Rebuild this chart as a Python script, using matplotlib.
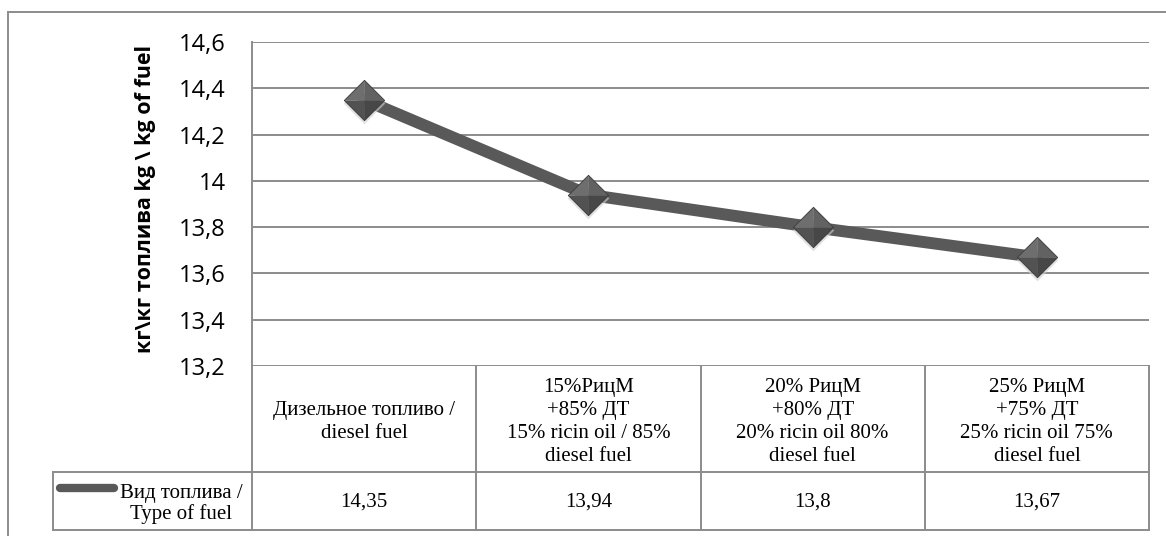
import matplotlib
matplotlib.use("Agg")
import matplotlib.pyplot as plt
from matplotlib.lines import Line2D
from matplotlib.patches import Rectangle
from matplotlib.ticker import FixedLocator, FuncFormatter
from matplotlib.transforms import blended_transform_factory

# data
categories = [
    "Дизельное топливо /\ndiesel fuel",
    "15%РицМ\n+85% ДТ\n15% ricin oil / 85%\ndiesel fuel",
    "20% РицМ\n+80% ДТ\n20% ricin oil 80%\ndiesel fuel",
    "25% РицМ\n+75% ДТ\n25% ricin oil 75%\ndiesel fuel",
]
values = [14.35, 13.94, 13.8, 13.67]
series_name = "Вид топлива /\nType of fuel"
y_label = "кг\\кг топлива kg \\ kg of fuel"
y_ticks = [13.2, 13.4, 13.6, 13.8, 14.0, 14.2, 14.4, 14.6]

W, H = 1166, 536
GRID = "#8c8c8c"
LINE = "#595959"


def fy(py):
    return 1 - py / H


def comma(v):
    return f"{v:g}".replace(".", ",")


fig = plt.figure(figsize=(W / 100, H / 100), dpi=100)
fig.patch.set_facecolor("white")

# outer chart frame (right / bottom edges fall outside the image)
fig.add_artist(Rectangle((8 / W, -0.2), 1.5, fy(12) + 0.2, transform=fig.transFigure,
                         fill=False, edgecolor=GRID, linewidth=1.4))

ax = fig.add_axes([252 / W, fy(366), 897 / W, 324 / H])
ax.set_xlim(-0.5, len(values) - 0.5)
ax.set_ylim(y_ticks[0], y_ticks[-1])
ax.yaxis.set_major_locator(FixedLocator(y_ticks))
ax.yaxis.set_major_formatter(FuncFormatter(lambda v, p: comma(round(v, 1))))
ax.set_xticks([])
ax.tick_params(axis="y", length=0, pad=19, labelsize=17)
for lab in ax.get_yticklabels():
    lab.set_fontfamily("Open Sans")
ax.grid(axis="y", color=GRID, linewidth=1.4)
for s in ["top", "right", "bottom"]:
    ax.spines[s].set_visible(False)
ax.spines["left"].set_color(GRID)
ax.spines["left"].set_linewidth(1.4)

x = list(range(len(values)))
ax.plot(x, values, color=LINE, linewidth=8.6, solid_joinstyle="round",
        solid_capstyle="round", zorder=3)

# pyramid-style diamond markers built from four shaded facets
facets = [
    ([(-1, 0), (0, 1), (0, 0)], "#6e6e6e"),
    ([(0, 1), (1, 0), (0, 0)], "#626262"),
    ([(-1, 0), (0, -1), (0, 0)], "#525252"),
    ([(1, 0), (0, -1), (0, 0)], "#474747"),
]
ax.plot(x, [v - 0.012 for v in values], linestyle="none", marker=[(-1, 0), (0, 1), (1, 0), (0, -1)],
        markersize=30, color="#cfcfcf", markeredgewidth=0, alpha=0.6, zorder=4)
for verts, col in facets:
    ax.plot(x, values, linestyle="none", marker=verts, markersize=29,
            markerfacecolor=col, markeredgecolor=col, markeredgewidth=0.3, zorder=5)
ax.plot(x, values, linestyle="none", marker=[(-1, 0), (0, 1), (1, 0), (0, -1), (-1, 0)],
        markersize=29, markerfacecolor="none", markeredgecolor="#3c3c3c",
        markeredgewidth=0.6, zorder=6)

fig.text(146 / W, fy(199), y_label, rotation=90, ha="center", va="center",
         fontsize=15.5, fontweight="bold", fontfamily="Open Sans", color="black")

# data table under the plot
tr = blended_transform_factory(ax.transData, fig.transFigure)
serif = "Liberation Serif"
row_top, row_mid, row_bot = 366, 472, 530
lw = 1.4

def hline(x0, x1, py, transform):
    fig.add_artist(Line2D([x0, x1], [fy(py), fy(py)], transform=transform,
                          color=GRID, linewidth=lw))

def vline(xv, py0, py1, transform):
    fig.add_artist(Line2D([xv, xv], [fy(py0), fy(py1)], transform=transform,
                          color=GRID, linewidth=lw))

n = len(values)
hline(-0.5, n - 0.5, row_mid, tr)
hline(-0.5, n - 0.5, row_bot, tr)
hline(53 / W, 252 / W, row_mid, fig.transFigure)
hline(53 / W, 252 / W, row_bot, fig.transFigure)
vline(53 / W, row_mid, row_bot, fig.transFigure)
for i in range(n + 1):
    vline(i - 0.5, row_top, row_bot, tr)

for i, (cat, v) in enumerate(zip(categories, values)):
    fig.text(i, fy((row_top + row_mid) / 2 + 3), cat, transform=tr, ha="center",
             va="center", fontsize=15, fontfamily=serif, linespacing=1.3)
    fig.text(i, fy((row_mid + row_bot) / 2 + 1), comma(v), transform=tr, ha="center",
             va="center", fontsize=15, fontfamily=serif)

# legend key inside the series row
fig.add_artist(Line2D([60 / W, 114 / W], [fy(488), fy(488)], transform=fig.transFigure,
                      color=LINE, linewidth=6, solid_capstyle="round"))
fig.text(181 / W, fy(504), series_name, ha="center", va="center", fontsize=15,
         fontfamily=serif, linespacing=1.1)

fig.savefig("out.png", dpi=100, facecolor="white")
